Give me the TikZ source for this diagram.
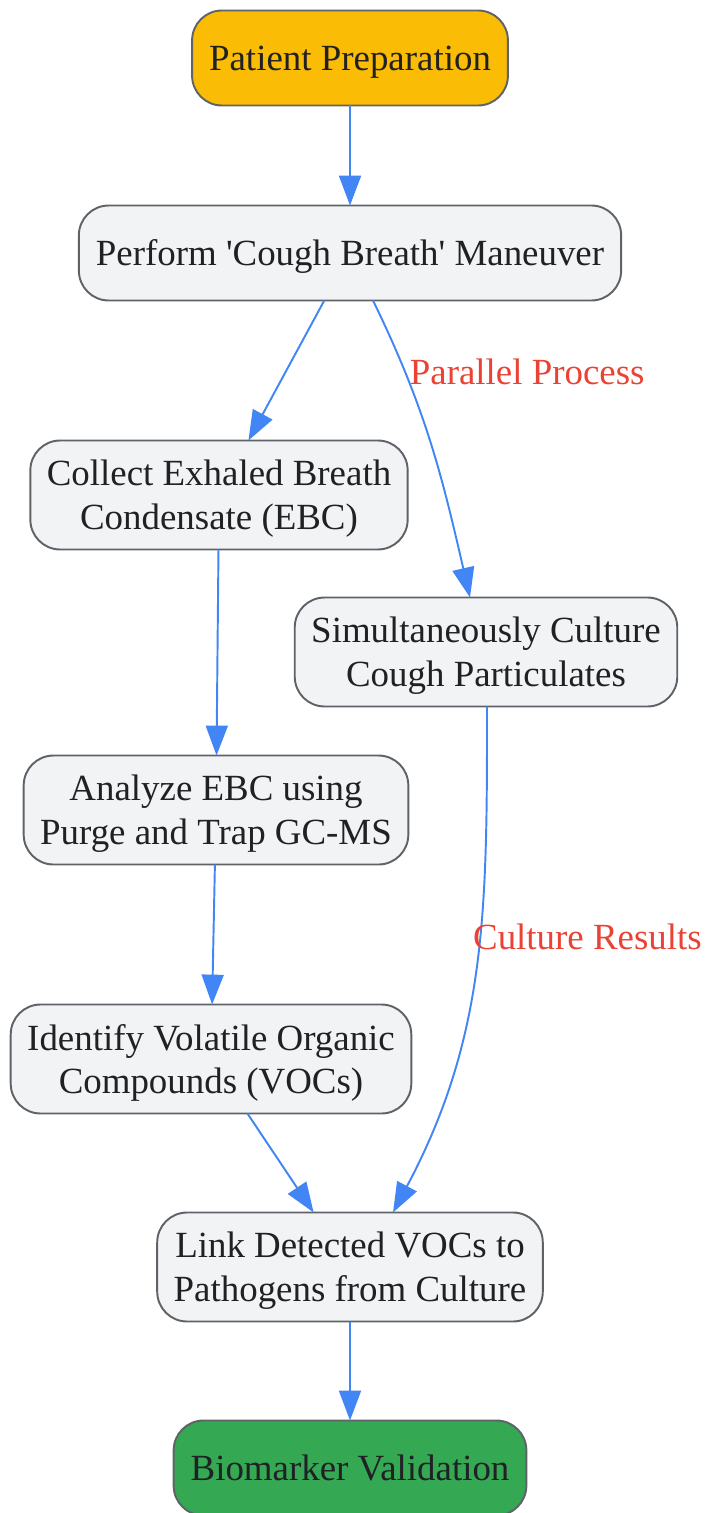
\documentclass[tikz,border=0pt]{standalone}
\usepackage{fontspec}
\setmainfont{Liberation Serif}[Ligatures=TeXOff]
\usepackage{xcolor}
\usetikzlibrary{arrows.meta, positioning}

\definecolor{flowblue}{HTML}{4285F4}
\definecolor{flowred}{HTML}{EA4335}
\definecolor{startorange}{HTML}{FBBC05}
\definecolor{endgreen}{HTML}{34A853}
\definecolor{stepgray}{HTML}{F1F3F4}
\definecolor{edgegray}{HTML}{5F6368}
\definecolor{inkdark}{HTML}{202124}

\begin{document}
\begin{tikzpicture}[node distance=2cm, font=\fontsize{21}{25}\selectfont]
    \tikzstyle{startstop} = [rectangle, rounded corners=17pt, minimum height=1.9cm, inner xsep=0.34cm, outer sep=0pt, text depth=0pt, align=center, draw=edgegray, line width=1.1pt, text=inkdark]
    \tikzstyle{process} = [rectangle, rounded corners=17pt, minimum height=2.18cm, inner xsep=0.33cm, outer sep=0pt, text depth=0pt, align=center, draw=edgegray, line width=1.1pt, fill=stepgray, text=inkdark]
    \tikzstyle{arrow} = [flowblue, line width=1.1pt, -{Triangle[length=17pt, width=12.5pt]}]
    \tikzstyle{edgelabel} = [text=flowred, anchor=west, inner sep=1pt]

    \useasboundingbox (0,0) rectangle (14.16,-30.26);

    \node (prep) [startstop, fill=startorange] at (7,-1.16) {Patient Preparation};
    \node (cough) [startstop, fill=stepgray, below=2cm of prep] {Perform 'Cough Breath' Maneuver};
    \node (ebc) [process, below=2.8cm of cough, xshift=-2.62cm] {Collect Exhaled Breath\\Condensate (EBC)};
    \node (culture) [process, below=0.96cm of ebc, xshift=5.34cm] {Simultaneously Culture\\Cough Particulates};
    \node (gcms) [process, below=4.12cm of ebc, xshift=-0.06cm] {Analyze EBC using\\Purge and Trap GC-MS};
    \node (vocs) [process, below=2.8cm of gcms, xshift=-0.1cm] {Identify Volatile Organic\\Compounds (VOCs)};
    \node (link) [process, below=1.98cm of vocs, xshift=2.78cm] {Link Detected VOCs to\\Pathogens from Culture};
    \node (valid) [startstop, fill=endgreen, below=1.98cm of link] {Biomarker Validation};

    \draw [arrow] (prep) -- (cough);
    \draw [arrow] (cough) -- (ebc);
    \draw [arrow] ([xshift=0.46cm]cough.south) to[out=-64, in=103] node[edgelabel, pos=0.235, xshift=0.04cm] {Parallel Process} ([xshift=-0.32cm]culture.north);
    \draw [arrow] (ebc) -- (gcms);
    \draw [arrow] (gcms) -- (vocs);
    \draw [arrow] (vocs) -- (link);
    \draw [arrow] ([xshift=0.02cm]culture.south) to[out=-90, in=62] node[edgelabel, pos=0.435, xshift=-0.18cm] {Culture Results} ([xshift=0.86cm]link.north);
    \draw [arrow] (link) -- (valid);
\end{tikzpicture}
\end{document}
